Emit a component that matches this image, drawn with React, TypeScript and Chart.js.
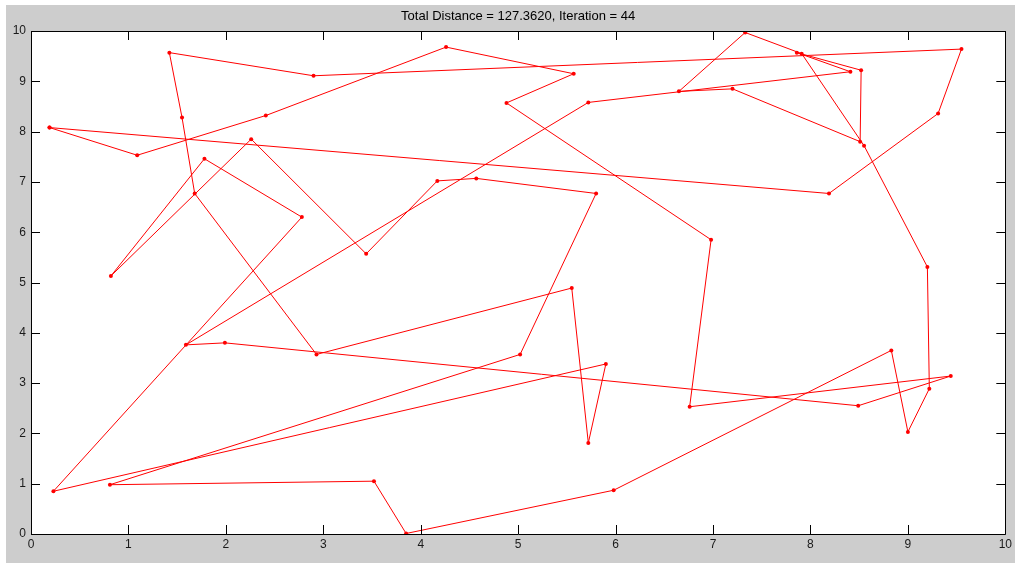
import React, { useEffect, useRef } from "react";
import { Chart, registerables } from "chart.js";

Chart.register(...registerables);

const titleText = "Total Distance = 127.3620, Iteration = 44";

// Tour visiting order (x, y); closed back to the start
const tourX = [
  0.19, 1.09, 2.41, 4.26, 5.57, 4.88, 6.98, 6.76, 9.44, 8.49,
  1.99, 1.59, 5.72, 8.41, 7.86, 8.52, 8.51, 7.2, 6.65, 7.33,
  7.91, 8.55, 9.2, 9.22, 9.0, 8.83, 5.98, 3.85, 3.52, 0.81,
  5.02, 5.8, 4.57, 4.17, 3.44, 2.26, 0.82, 1.78, 2.78, 0.23,
  5.9, 5.72, 5.55, 2.93, 1.68, 1.55, 1.42, 2.9, 9.55, 9.31,
  8.19, 0.19,
];
const tourY = [
  8.08, 7.53, 8.32, 9.68, 9.15, 8.57, 5.85, 2.53, 3.14, 2.55,
  3.8, 3.76, 8.58, 9.19, 9.57, 9.22, 7.8, 8.85, 8.8, 9.97,
  9.55, 7.72, 5.31, 2.89, 2.03, 3.65, 0.87, 0.01, 1.05, 0.98,
  3.57, 6.77, 7.07, 7.02, 5.57, 7.85, 5.13, 7.46, 6.3, 0.85,
  3.38, 1.81, 4.89, 3.57, 6.77, 8.28, 9.57, 9.11, 9.64, 8.36,
  6.77, 8.08,
];
const tickValues = [0, 1, 2, 3, 4, 5, 6, 7, 8, 9, 10];

const W = 1015;
const H = 563;

const framePlugin = {
  id: "matlabFrame",
  beforeDraw(chart: any) {
    const ctx = chart.ctx;
    const a = chart.chartArea;
    ctx.save();
    ctx.fillStyle = "#ffffff";
    ctx.fillRect(0, 0, W, H);
    ctx.fillStyle = "#cdcdcd";
    ctx.fillRect(6, 5, W - 6, H - 5);
    ctx.fillStyle = "#ffffff";
    ctx.fillRect(a.left, a.top, a.right - a.left, a.bottom - a.top);
    ctx.restore();
  },
  afterDraw(chart: any) {
    const ctx = chart.ctx;
    const a = chart.chartArea;
    const xs = chart.scales.x;
    const ys = chart.scales.y;
    ctx.save();
    ctx.strokeStyle = "#000000";
    ctx.lineWidth = 1;
    ctx.beginPath();
    ctx.rect(Math.round(a.left) + 0.5, Math.round(a.top) + 0.5, Math.round(a.right - a.left), Math.round(a.bottom - a.top));
    ctx.stroke();
    const tl = 9;
    ctx.beginPath();
    tickValues.forEach((v) => {
      const px = Math.round(xs.getPixelForValue(v)) + 0.5;
      ctx.moveTo(px, a.bottom);
      ctx.lineTo(px, a.bottom - tl);
      ctx.moveTo(px, a.top);
      ctx.lineTo(px, a.top + tl);
      const py = Math.round(ys.getPixelForValue(v)) + 0.5;
      ctx.moveTo(a.left, py);
      ctx.lineTo(a.left + tl, py);
      ctx.moveTo(a.right, py);
      ctx.lineTo(a.right - tl, py);
    });
    ctx.stroke();
    ctx.fillStyle = "#000000";
    ctx.font = "13px 'Liberation Sans', Arial, sans-serif";
    ctx.textAlign = "center";
    ctx.textBaseline = "middle";
    ctx.fillText(titleText, (a.left + a.right) / 2, 16);
    ctx.restore();
  },
};

export default function App() {
  const ref = useRef<HTMLCanvasElement | null>(null);
  useEffect(() => {
    if (!ref.current) return;
    const data = tourX.map((x, i) => ({ x, y: tourY[i] }));
    const tickFont = { family: "'Liberation Sans', Arial, sans-serif", size: 12 };
    const chart = new Chart(ref.current, {
      type: "scatter",
      data: {
        datasets: [
          {
            data,
            showLine: true,
            borderColor: "#ff0000",
            backgroundColor: "#ff0000",
            borderWidth: 1,
            pointRadius: 2,
            pointBorderWidth: 0,
            pointHoverRadius: 2,
          },
        ],
      },
      options: {
        responsive: false,
        animation: false,
        events: [],
        layout: { padding: { top: 31, right: 9, left: 0, bottom: 0 } },
        plugins: {
          legend: { display: false },
          title: { display: false },
          tooltip: { enabled: false },
        },
        scales: {
          x: {
            type: "linear",
            min: 0,
            max: 10,
            grid: { display: false, drawTicks: false },
            border: { display: false },
            ticks: {
              stepSize: 1,
              autoSkip: false,
              maxRotation: 0,
              padding: 3,
              color: "#1a1a1a",
              font: tickFont,
            },
            afterFit: (s: any) => {
              s.height = 29;
            },
          },
          y: {
            type: "linear",
            min: 0,
            max: 10,
            grid: { display: false, drawTicks: false },
            border: { display: false },
            ticks: {
              stepSize: 1,
              autoSkip: false,
              padding: 5,
              color: "#1a1a1a",
              font: tickFont,
            },
            afterFit: (s: any) => {
              s.width = 31;
            },
          },
        },
      },
      plugins: [framePlugin],
    });
    return () => chart.destroy();
  }, []);
  return (
    <div style={{ position: "absolute", left: 0, top: 0, width: W, height: H }}>
      <canvas ref={ref} width={W} height={H} style={{ width: W, height: H, display: "block" }} />
    </div>
  );
}
